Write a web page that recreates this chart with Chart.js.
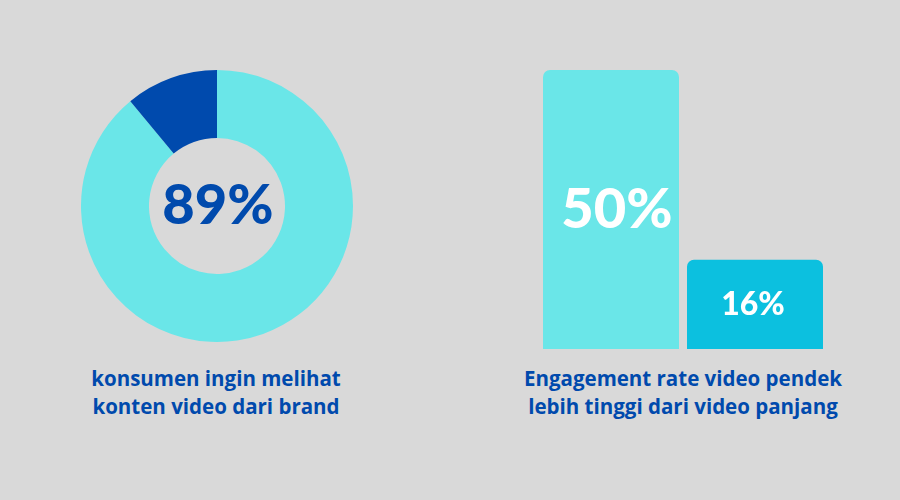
<!DOCTYPE html>
<html>
<head>
<meta charset="utf-8">
<script src="https://cdn.jsdelivr.net/npm/chart.js@4"></script>
<style>
  html, body { margin: 0; padding: 0; }
  body { width: 900px; height: 500px; background: #d9d9d9; position: relative; overflow: hidden; }
  .box { position: absolute; }
  .caption {
    position: absolute;
    font-family: "Open Sans", sans-serif;
    font-weight: 700;
    font-size: 20.5px;
    line-height: 28px;
    color: #004aad;
    text-align: center;
    white-space: nowrap;
  }
</style>
</head>
<body>
<div class="box" style="left:81px; top:70px; width:272px; height:272px;"><canvas id="chartDonat"></canvas></div>
<div class="box" style="left:539px; top:70px; width:288px; height:279px;"><canvas id="chartBar"></canvas></div>
<div class="caption" style="left:16px; width:400px; top:364px;">konsumen ingin melihat<br>konten video dari brand</div>
<div class="caption" style="left:483px; width:400px; top:364px;">Engagement rate video pendek<br>lebih tinggi dari video panjang</div>
<script>
const donatLabels = ['Ingin melihat', 'Lainnya'];
const donatValues = [89, 11];
const donatColors = ['#6ae6e8', '#004aad'];

const barLabels = ['Video pendek', 'Video panjang'];
const barValues = [50, 16];
const barColors = ['#6ae6e8', '#0cc0df'];

const centerText = {
    id: 'centerText',
    afterDraw(chart) {
        const ctx = chart.ctx;
        const meta = chart.getDatasetMeta(0);
        const arc = meta.data[0];
        ctx.save();
        ctx.font = '900 56px Lato';
        ctx.fillStyle = '#004aad';
        ctx.textAlign = 'center';
        ctx.textBaseline = 'middle';
        ctx.fillText(donatValues[0] + '%', arc.x + 1, arc.y);
        ctx.restore();
    }
};

// ukuran dan geser teks di dalam batang
const barFont = [56, 32];
const barShift = [6, -2];

const barText = {
    id: 'barText',
    afterDatasetsDraw(chart) {
        const ctx = chart.ctx;
        const meta = chart.getDatasetMeta(0);
        ctx.save();
        ctx.fillStyle = '#ffffff';
        ctx.textAlign = 'center';
        ctx.textBaseline = 'middle';
        meta.data.forEach((bar, i) => {
            ctx.font = '900 ' + barFont[i] + 'px Lato';
            const y = (bar.y + bar.base) / 2;
            ctx.fillText(barValues[i] + '%', bar.x + barShift[i], y);
        });
        ctx.restore();
    }
};

const chartDonat = new Chart(document.getElementById('chartDonat'), {
    type: 'doughnut',
    data: {
        labels: donatLabels,
        datasets: [{
            data: donatValues,
            backgroundColor: donatColors,
            borderWidth: 0
        }]
    },
    options: {
        responsive: true,
        maintainAspectRatio: false,
        animation: false,
        cutout: '50%',
        plugins: { legend: { display: false }, tooltip: { enabled: false } }
    },
    plugins: [centerText]
});

const chartBar = new Chart(document.getElementById('chartBar'), {
    type: 'bar',
    data: {
        labels: barLabels,
        datasets: [{
            data: barValues,
            backgroundColor: barColors,
            borderWidth: 0,
            borderRadius: { topLeft: 7, topRight: 7 },
            borderSkipped: 'bottom',
            barPercentage: 136 / 144,
            categoryPercentage: 1
        }]
    },
    options: {
        responsive: true,
        maintainAspectRatio: false,
        animation: false,
        layout: { padding: 0 },
        scales: {
            x: { display: false },
            y: { display: false, min: 0, max: 50 }
        },
        plugins: { legend: { display: false }, tooltip: { enabled: false } }
    },
    plugins: [barText]
});
</script>
</body>
</html>
